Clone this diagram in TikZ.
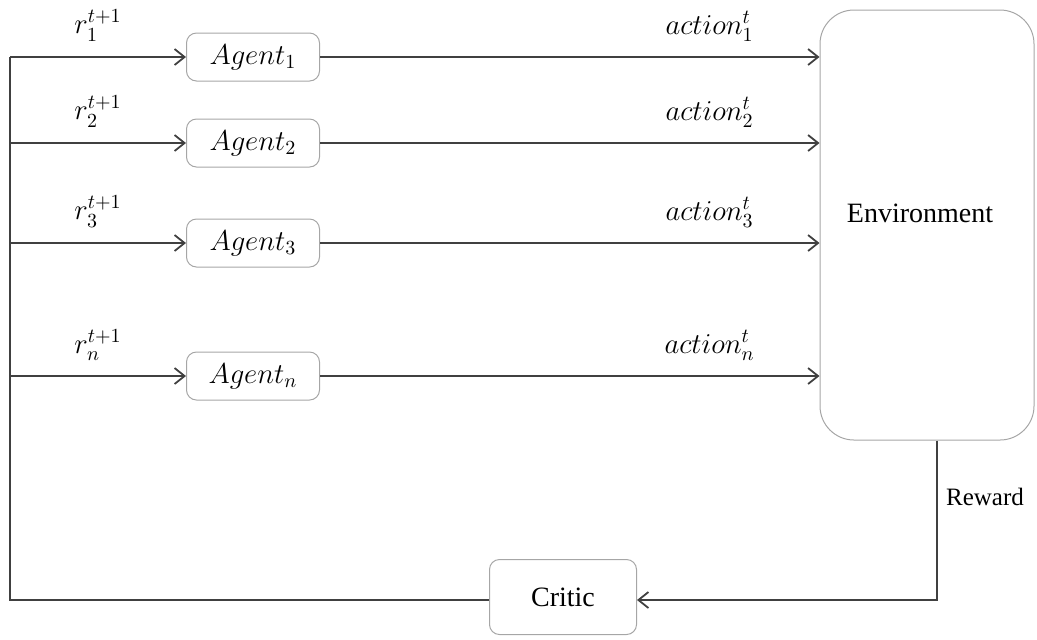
\documentclass[tikz,border=0pt]{standalone}
\usepackage{amsmath}
\usepackage{fontspec}
\setmainfont{Liberation Serif}
\usepackage{tikz}
\usetikzlibrary{arrows.meta,positioning}

\begin{document}
\begin{tikzpicture}[
  x=0.5pt,y=-0.5pt,
  font=\fontsize{14}{16}\selectfont,
  agbx/.style={draw=black!35,line width=0.5pt,rounded corners=5pt,
               minimum width=66.5pt,minimum height=24pt,inner sep=2pt},
  envbx/.style={draw=black!35,line width=0.5pt,rounded corners=17pt,
               minimum width=107pt,minimum height=215pt},
  ar/.style={-{Straight Barb[length=5pt,width=8pt]},draw=black!75,line width=0.9pt},
  ln/.style={draw=black!75,line width=0.9pt}
]
\useasboundingbox (0,0) rectangle (1037,639);

% agents
\node[agbx] (a1) at (253,57) {$Agent_1$};
\node[agbx] (a2) at (253,143) {$Agent_2$};
\node[agbx] (a3) at (253,243) {$Agent_3$};
\node[agbx] (an) at (253,376) {$Agent_n$};

% environment and critic
\node[envbx] (env) at (927,225) {};
\node (envtxt) at (920,213) {Environment};
\node[agbx,minimum width=73.5pt,minimum height=37.5pt] (critic) at (563,597) {Critic};

\coordinate (lft) at (10,600);
\coordinate (rwd) at (937,600);

% actions
\draw[ar] (a1) -- node[pos=0.78,above=4pt] {$action_1^t$} (a1 -| env.west);
\draw[ar] (a2) -- node[pos=0.78,above=4pt] {$action_2^t$} (a2 -| env.west);
\draw[ar] (a3) -- node[pos=0.78,above=4pt] {$action_3^t$} (a3 -| env.west);
\draw[ar] (an) -- node[pos=0.78,above=4pt] {$action_n^t$} (an -| env.west);

% reward loop
\draw[ar] (env.south -| rwd) -- (rwd) -- (critic.east |- rwd);
\node[font=\fontsize{12.5}{14}\selectfont] (rwdtxt) at (985,497) {Reward};
\draw[ln] (critic.west |- lft) -- (lft) -- (lft |- a1.west);
\draw[ar] (a1.west -| lft) -- node[above=4pt] {$r_1^{t+1}$} (a1.west);
\draw[ar] (a2.west -| lft) -- node[above=4pt] {$r_2^{t+1}$} (a2.west);
\draw[ar] (a3.west -| lft) -- node[above=4pt] {$r_3^{t+1}$} (a3.west);
\draw[ar] (an.west -| lft) -- node[above=4pt] {$r_n^{t+1}$} (an.west);
\end{tikzpicture}
\end{document}
